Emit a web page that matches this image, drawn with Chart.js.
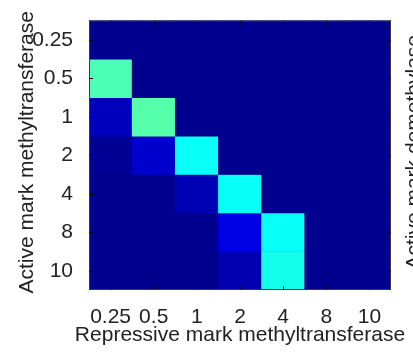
<!DOCTYPE html>
<html>
<head>
<meta charset="utf-8">
<script src="https://cdn.jsdelivr.net/npm/chart.js@4.4.0/dist/chart.umd.min.js"></script>
<style>
  html, body { margin: 0; padding: 0; background: #fff; }
</style>
</head>
<body>
<canvas id="chartMapa" width="413" height="354"></canvas>
<script>
// Enzyme levels on each axis
const colLabels = ['0.25', '0.5', '1', '2', '4', '8', '10'];
const rowLabels = ['0.25', '0.5', '1', '2', '4', '8', '10'];

// Cell values per row, top to bottom (0..1 on the jet colour scale)
const row025 = [0, 0, 0, 0, 0, 0, 0];
const row05  = [0.44, 0, 0, 0, 0, 0, 0];
const row1   = [0.045, 0.45, 0, 0, 0, 0, 0];
const row2   = [0.005, 0.06, 0.373, 0, 0, 0, 0];
const row4   = [0, 0, 0.037, 0.373, 0, 0, 0];
const row8   = [0, 0, 0, 0.086, 0.373, 0, 0];
const row10  = [0, 0, 0, 0.032, 0.385, 0, 0];
const rows = [row025, row05, row1, row2, row4, row8, row10];

const tituloX = 'Repressive mark methyltransferase';
const tituloY = 'Active mark methyltransferase';
const tituloDir = 'Active mark demethylase';

const fonte = '"Liberation Sans", Arial, sans-serif';
const corTexto = '#222';

// MATLAB-style jet colormap (64 levels, continuous)
function jet(v) {
  const i = 1 + Math.max(0, Math.min(1, v)) * 63;
  const c = x => Math.round(255 * Math.max(0, Math.min(1, x)));
  const r = c(Math.min((i - 24) / 16, (72 - i) / 16));
  const g = c(Math.min((i - 8) / 16, (56 - i) / 16));
  const b = c(Math.min((8 + i) / 16, (40 - i) / 16));
  return `rgb(${r}, ${g}, ${b})`;
}

// Axis titles are drawn here: Chart.js squeezes them to the axis length
function texto(ctx, str, x, y, girar) {
  ctx.save();
  ctx.translate(x, y);
  if (girar) ctx.rotate(-Math.PI / 2);
  ctx.fillStyle = corTexto;
  ctx.font = `21px ${fonte}`;
  ctx.textAlign = 'center';
  ctx.textBaseline = 'alphabetic';
  ctx.fillText(str, 0, 0);
  ctx.restore();
}

// Frame, inner ticks and titles
const moldura = {
  id: 'moldura',
  beforeDatasetsDraw(chart) {
    const { ctx, chartArea: a } = chart;
    ctx.save();
    ctx.fillStyle = jet(0);
    ctx.fillRect(a.left, a.top, a.width, a.height);
    ctx.restore();
  },
  afterDraw(chart) {
    const { ctx, chartArea: a, scales: { x, y } } = chart;
    ctx.save();
    ctx.strokeStyle = '#3a3a3a';
    ctx.lineWidth = 1;
    ctx.strokeRect(a.left + 0.5, a.top + 0.5, a.width - 1, a.height - 1);

    const len = 4;
    ctx.strokeStyle = '#111';
    ctx.beginPath();
    x.ticks.forEach((t, i) => {
      const px = Math.round(x.getPixelForTick(i)) + 0.5;
      ctx.moveTo(px, a.top); ctx.lineTo(px, a.top + len);
      ctx.moveTo(px, a.bottom); ctx.lineTo(px, a.bottom - len);
    });
    y.ticks.forEach((t, i) => {
      const py = Math.round(y.getPixelForTick(i)) + 0.5;
      ctx.moveTo(a.left, py); ctx.lineTo(a.left + len, py);
      ctx.moveTo(a.right, py); ctx.lineTo(a.right - len, py);
    });
    ctx.stroke();
    ctx.restore();

    const meioX = (a.left + a.right) / 2;
    const meioY = (a.top + a.bottom) / 2 - 3;
    texto(ctx, tituloX, meioX, 341, false);
    texto(ctx, tituloY, 33, meioY, true);
    texto(ctx, tituloDir, 420, meioY, true);
  }
};

function criarMapa() {
  const ctx = document.getElementById('chartMapa').getContext('2d');

  const datasets = rows.map((vals, k) => ({
    label: rowLabels[k],
    data: vals.map(() => 1),
    backgroundColor: vals.map(jet),
    borderWidth: 0,
    barPercentage: 1,
    categoryPercentage: 1
  }));

  new Chart(ctx, {
    type: 'bar',
    data: { labels: colLabels, datasets },
    options: {
      responsive: false,
      animation: false,
      devicePixelRatio: 1,
      layout: { padding: { top: 15, right: 22, left: 0, bottom: 0 } },
      plugins: {
        legend: { display: false },
        tooltip: { enabled: false }
      },
      scales: {
        x: {
          stacked: true,
          grid: { display: false },
          border: { display: false },
          ticks: {
            color: corTexto,
            font: { family: fonte, size: 21 },
            padding: 7,
            maxRotation: 0,
            autoSkip: false
          },
          afterFit: s => { s.height = 64; }
        },
        y: {
          stacked: true,
          reverse: true,
          min: 0,
          max: 7,
          grid: { display: false },
          border: { display: false },
          afterBuildTicks: s => {
            s.ticks = rowLabels.map((_, k) => ({ value: k + 0.5 }));
          },
          ticks: {
            color: corTexto,
            font: { family: fonte, size: 21 },
            padding: 8,
            callback: v => rowLabels[Math.floor(v)]
          },
          afterFit: s => { s.width = 89; }
        }
      }
    },
    plugins: [moldura]
  });
}

document.addEventListener('DOMContentLoaded', criarMapa);
</script>
</body>
</html>
